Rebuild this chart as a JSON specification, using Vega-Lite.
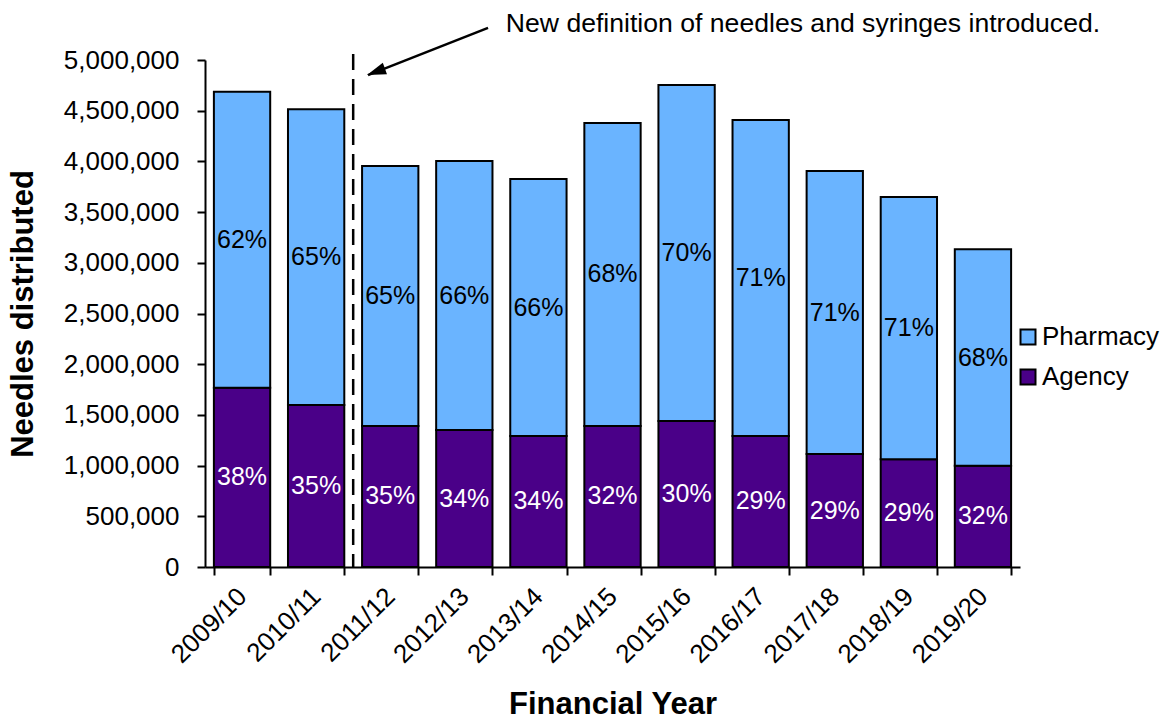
{
  "$schema": "https://vega.github.io/schema/vega-lite/v6.json",
  "width": 815,
  "height": 507,
  "autosize": {"type": "none"},
  "padding": {"left": 205, "top": 60, "right": 142, "bottom": 155},
  "background": "white",
  "config": {
    "font": "Liberation Sans",
    "view": {"stroke": null}
  },
  "layer": [
    {
      "data": {
        "values": [
          {"year": "2009/10", "series": "Agency", "value": 1768000, "pct": "38%"},
          {"year": "2009/10", "series": "Pharmacy", "value": 2919000, "pct": "62%"},
          {"year": "2010/11", "series": "Agency", "value": 1598000, "pct": "35%"},
          {"year": "2010/11", "series": "Pharmacy", "value": 2916000, "pct": "65%"},
          {"year": "2011/12", "series": "Agency", "value": 1391000, "pct": "35%"},
          {"year": "2011/12", "series": "Pharmacy", "value": 2564000, "pct": "65%"},
          {"year": "2012/13", "series": "Agency", "value": 1351000, "pct": "34%"},
          {"year": "2012/13", "series": "Pharmacy", "value": 2653000, "pct": "66%"},
          {"year": "2013/14", "series": "Agency", "value": 1292000, "pct": "34%"},
          {"year": "2013/14", "series": "Pharmacy", "value": 2534000, "pct": "66%"},
          {"year": "2014/15", "series": "Agency", "value": 1391000, "pct": "32%"},
          {"year": "2014/15", "series": "Pharmacy", "value": 2988000, "pct": "68%"},
          {"year": "2015/16", "series": "Agency", "value": 1440000, "pct": "30%"},
          {"year": "2015/16", "series": "Pharmacy", "value": 3313000, "pct": "70%"},
          {"year": "2016/17", "series": "Agency", "value": 1292000, "pct": "29%"},
          {"year": "2016/17", "series": "Pharmacy", "value": 3116000, "pct": "71%"},
          {"year": "2017/18", "series": "Agency", "value": 1114000, "pct": "29%"},
          {"year": "2017/18", "series": "Pharmacy", "value": 2791000, "pct": "71%"},
          {"year": "2018/19", "series": "Agency", "value": 1062000, "pct": "29%"},
          {"year": "2018/19", "series": "Pharmacy", "value": 2587000, "pct": "71%"},
          {"year": "2019/20", "series": "Agency", "value": 999000, "pct": "32%"},
          {"year": "2019/20", "series": "Pharmacy", "value": 2134000, "pct": "68%"}
        ]
      },
      "transform": [
        {"stack": "value", "groupby": ["year"], "sort": [{"field": "series", "order": "ascending"}], "as": ["v0", "v1"]},
        {"calculate": "(datum.v0 + datum.v1) / 2", "as": "mid"}
      ],
      "encoding": {
        "x": {
          "field": "year",
          "type": "nominal",
          "scale": {"paddingInner": 0.24, "paddingOuter": 0.12},
          "axis": {
            "title": "Financial Year",
            "titleFontSize": 31,
            "titleFontWeight": "bold",
            "titleColor": "black",
            "titlePadding": 22,
            "labelAngle": -45,
            "labelAlign": "right",
            "labelBaseline": "middle",
            "labelFontSize": 26,
            "labelColor": "black",
            "labelPadding": 17,
            "tickBand": "extent",
            "tickColor": "black",
            "tickWidth": 2,
            "tickSize": 8,
            "domainColor": "black",
            "domainWidth": 2,
            "grid": false
          }
        }
      },
      "layer": [
        {
          "mark": {"type": "bar", "stroke": "black", "strokeWidth": 2},
          "encoding": {
            "y": {
              "field": "v1",
              "type": "quantitative",
              "scale": {"domain": [0, 5000000], "nice": false},
              "axis": {
                "title": "Needles distributed",
                "titleFontSize": 31,
                "titleFontWeight": "bold",
                "titleColor": "black",
                "titlePadding": 24,
                "labelFontSize": 26,
                "labelColor": "black",
                "labelPadding": 18,
                "format": ",d",
                "values": [0, 500000, 1000000, 1500000, 2000000, 2500000, 3000000, 3500000, 4000000, 4500000, 5000000],
                "tickColor": "black",
                "tickWidth": 2,
                "tickSize": 8,
                "domainColor": "black",
                "domainWidth": 2,
                "grid": false
              }
            },
            "y2": {"field": "v0"},
            "color": {
              "field": "series",
              "type": "nominal",
              "scale": {"domain": ["Pharmacy", "Agency"], "range": ["#6AB4FF", "#4A0088"]},
              "legend": {
                "title": null,
                "orient": "none",
                "legendX": 810,
                "legendY": 264,
                "symbolType": "square",
                "symbolSize": 225,
                "symbolStrokeColor": "black",
                "symbolStrokeWidth": 2,
                "symbolOpacity": 1,
                "labelFontSize": 26,
                "labelColor": "black",
                "labelOffset": 1,
                "rowPadding": 14
              }
            }
          }
        },
        {
          "mark": {"type": "text", "fontSize": 25, "align": "center", "baseline": "middle"},
          "encoding": {
            "y": {
              "field": "mid",
              "type": "quantitative",
              "axis": {
                "title": "Needles distributed",
                "titleFontSize": 31,
                "titleFontWeight": "bold",
                "titleColor": "black",
                "titlePadding": 24,
                "labelFontSize": 26,
                "labelColor": "black",
                "labelPadding": 18,
                "format": ",d",
                "values": [0, 500000, 1000000, 1500000, 2000000, 2500000, 3000000, 3500000, 4000000, 4500000, 5000000],
                "tickColor": "black",
                "tickWidth": 2,
                "tickSize": 8,
                "domainColor": "black",
                "domainWidth": 2,
                "grid": false
              }
            },
            "text": {"field": "pct", "type": "nominal"},
            "color": {"condition": {"test": "datum.series === 'Agency'", "value": "white"}, "value": "black"}
          }
        }
      ]
    },
    {
      "layer": [
        {
          "data": {"values": [{"pos": 2, "top": 5060000, "bottom": 0}]},
          "mark": {"type": "rule", "color": "black", "strokeWidth": 2.5, "strokeDash": [16, 9]},
          "encoding": {
            "x": {"field": "pos", "type": "quantitative", "scale": {"domain": [0, 11], "nice": false, "zero": false}, "axis": null},
            "y": {"field": "top", "type": "quantitative", "axis": null},
            "y2": {"field": "bottom"}
          }
        },
        {
          "data": {"values": [{"pos": 3.82, "pos2": 2.2, "top": 5316000, "bottom": 4850000}]},
          "mark": {"type": "rule", "color": "black", "strokeWidth": 2.5},
          "encoding": {
            "x": {"field": "pos", "type": "quantitative", "axis": null},
            "x2": {"field": "pos2"},
            "y": {"field": "top", "type": "quantitative", "axis": null},
            "y2": {"field": "bottom"}
          }
        },
        {
          "data": {"values": [{"pos": 2.187, "val": 4852000}]},
          "mark": {"type": "point", "shape": "M0,0 L-0.32,1 L0.32,1 Z", "size": 1444, "angle": 250, "filled": true, "color": "black", "opacity": 1},
          "encoding": {
            "x": {"field": "pos", "type": "quantitative", "axis": null},
            "y": {"field": "val", "type": "quantitative", "axis": null}
          }
        },
        {
          "data": {"values": [{"pos": 4.06, "val": 5355000, "label": "New definition of needles and syringes introduced."}]},
          "mark": {"type": "text", "fontSize": 26.6, "align": "left", "baseline": "middle", "color": "black"},
          "encoding": {
            "x": {"field": "pos", "type": "quantitative", "axis": null},
            "y": {"field": "val", "type": "quantitative", "axis": null},
            "text": {"field": "label"}
          }
        }
      ]
    }
  ],
  "resolve": {"scale": {"x": "independent"}, "axis": {"y": "independent"}}
}
